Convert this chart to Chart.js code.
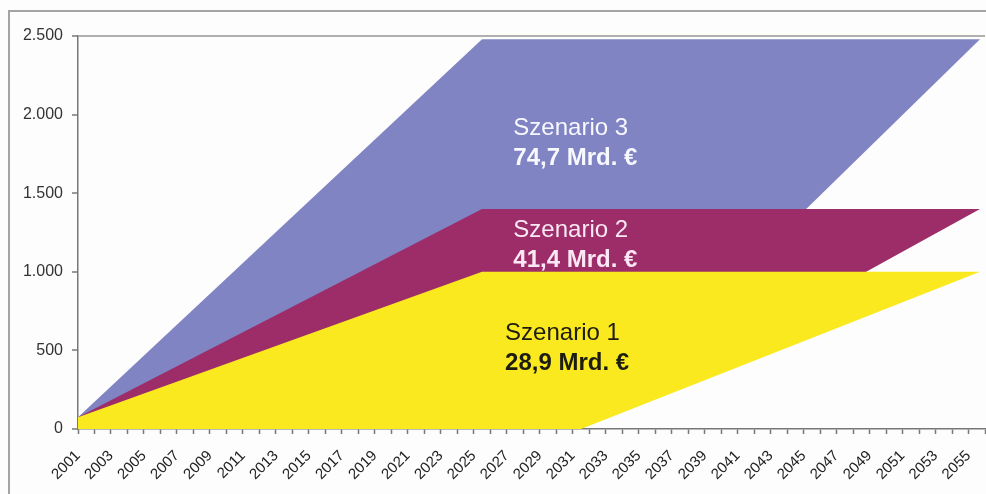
<!DOCTYPE html>
<html>
<head>
<meta charset="utf-8">
<script src="https://cdn.jsdelivr.net/npm/chart.js@4.4.1/dist/chart.umd.min.js"></script>
<style>
  html, body { margin: 0; padding: 0; background: #fdfdfd; }
  canvas { display: block; }
</style>
</head>
<body>
<canvas id="chart" width="986" height="494"></canvas>
<script>
// break points of the boundary lines (years)
const topYears = [2001, 2025.5, 2055.7];
const bottomYears = [2001, 2031.5, 2055.7];

// boundary values per scenario
const s1Top = [75, 1000, 1000];
const s1Bottom = [0, 0, 1000];
const s2Top = [75, 1400, 1400];
const s2Bottom = [0, 0, 1400];
const s3Top = [75, 2480, 2480];
const s3Bottom = [0, 0, 2480];

const scenarioNames = ["Szenario 1", "Szenario 2", "Szenario 3"];
const scenarioCosts = ["28,9 Mrd. €", "41,4 Mrd. €", "74,7 Mrd. €"];

const yearLabels = [2001, 2003, 2005, 2007, 2009, 2011, 2013, 2015, 2017, 2019,
    2021, 2023, 2025, 2027, 2029, 2031, 2033, 2035, 2037, 2039,
    2041, 2043, 2045, 2047, 2049, 2051, 2053, 2055];
const valueTicks = [0, 500, 1000, 1500, 2000, 2500];

const colors = ["#fbe91f", "#9c2d68", "#8084c3"];
const textColors = ["#1c1c10", "#fbe8f4", "#f8f8ff"];
// where each label block sits (year, value of first baseline)
const labelAnchors = [[2026.9, 566], [2027.4, 1221], [2027.4, 1870]];

const pts = (xs, ys) => xs.map((x, i) => ({ x: x, y: ys[i] }));

function band(top, bottom, color) {
    return [
        { data: pts(topYears, top), fill: "+1", backgroundColor: color,
          borderWidth: 0, pointRadius: 0, tension: 0 },
        { data: pts(bottomYears, bottom), fill: false,
          borderWidth: 0, pointRadius: 0, tension: 0 }
    ];
}

const frame = {
    id: "frame",
    beforeDraw(chart) {
        const c = chart.ctx;
        c.save();
        c.fillStyle = "#fdfdfd";
        c.fillRect(0, 0, chart.width, chart.height);
        c.strokeStyle = "#a4a4a4";
        c.lineWidth = 2;
        c.strokeRect(9, 11, 1000, 500);
        c.restore();
    },
    afterDatasetsDraw(chart) {
        const c = chart.ctx;
        const xs = chart.scales.x, ys = chart.scales.y;
        c.save();
        c.textAlign = "left";
        c.textBaseline = "alphabetic";
        labelAnchors.forEach((a, i) => {
            const px = xs.getPixelForValue(a[0]);
            const py = ys.getPixelForValue(a[1]);
            c.fillStyle = textColors[i];
            c.font = "24px 'Liberation Sans', Arial, sans-serif";
            c.fillText(scenarioNames[i], px, py);
            c.font = "bold 24px 'Liberation Sans', Arial, sans-serif";
            c.fillText(scenarioCosts[i], px, py + 30);
        });
        c.restore();
    }
};

new Chart(document.getElementById("chart"), {
    type: "line",
    data: {
        datasets: [
            ...band(s1Top, s1Bottom, colors[0]),
            ...band(s2Top, s2Bottom, colors[1]),
            ...band(s3Top, s3Bottom, colors[2])
        ]
    },
    options: {
        responsive: false,
        animation: false,
        layout: { padding: { top: 36, right: 1, left: 0, bottom: 0 } },
        plugins: { legend: { display: false }, tooltip: { enabled: false } },
        scales: {
            x: {
                type: "linear",
                min: 2001,
                max: 2056,
                afterFit: s => { s.height = 65; s.paddingRight = 0; s.paddingLeft = 0; },
                ticks: {
                    stepSize: 1,
                    autoSkip: false,
                    maxRotation: 45,
                    minRotation: 45,
                    padding: 13,
                    color: "#222",
                    font: { family: "'Liberation Sans', Arial, sans-serif", size: 15 },
                    callback: v => yearLabels.includes(v) ? String(v) : ""
                },
                grid: { drawOnChartArea: false, tickLength: 5, tickColor: "#777", tickWidth: 1.5 },
                border: { color: "#777", width: 1.5 }
            },
            y: {
                min: 0,
                max: 2500,
                afterFit: s => { s.width = 78; },
                afterBuildTicks: s => { s.ticks = valueTicks.map(v => ({ value: v })); },
                ticks: {
                    padding: 9,
                    color: "#333",
                    font: { family: "'Liberation Sans', Arial, sans-serif", size: 16 },
                    callback: v => v.toLocaleString("de-DE")
                },
                grid: {
                    color: ctx => ctx.tick && ctx.tick.value === 2500 ? "#b0b0b0" : "rgba(0,0,0,0)",
                    lineWidth: 2,
                    tickLength: 6,
                    tickColor: "#777",
                    tickWidth: 1.5
                },
                border: { color: "#777", width: 1.5 }
            }
        }
    },
    plugins: [frame]
});
</script>
</body>
</html>
